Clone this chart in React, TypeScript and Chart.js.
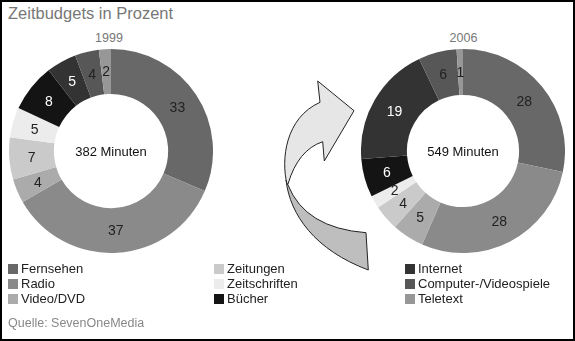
import React, { useEffect, useRef } from "react";
import { Chart, registerables } from "chart.js";

Chart.register(...registerables);

const categories = [
  "Fernsehen",
  "Radio",
  "Video/DVD",
  "Zeitungen",
  "Zeitschriften",
  "Bücher",
  "Internet",
  "Computer-/Videospiele",
  "Teletext",
];
const values1999 = [33, 37, 4, 7, 5, 8, 5, 4, 2];
const values2006 = [28, 28, 5, 4, 2, 6, 19, 6, 1];
const years = ["1999", "2006"];
const totals = ["382 Minuten", "549 Minuten"];
const colors = [
  "#686868",
  "#8a8a8a",
  "#ababab",
  "#cacaca",
  "#ececec",
  "#141414",
  "#333333",
  "#575757",
  "#979797",
];
const labelColors = ["#222", "#222", "#222", "#222", "#222", "#fff", "#fff", "#222", "#222"];
const legendColumns = [
  [0, 1, 2],
  [3, 4, 5],
  [6, 7, 8],
];

const FONT = "'Liberation Sans', Arial, Helvetica, sans-serif";

const segLabels = {
  id: "segLabels",
  afterDatasetsDraw(chart: any, _args: any, opts: any) {
    const ctx = chart.ctx;
    const meta = chart.getDatasetMeta(0);
    const data = chart.data.datasets[0].data;
    ctx.save();
    ctx.textAlign = "center";
    ctx.textBaseline = "middle";
    ctx.font = `14px ${FONT}`;
    meta.data.forEach((arc: any, i: number) => {
      const p = arc.tooltipPosition(false);
      ctx.fillStyle = labelColors[i];
      ctx.fillText(String(data[i]), p.x, p.y + 1);
    });
    const a = meta.data[0];
    if (a && opts && opts.center) {
      ctx.fillStyle = "#111";
      ctx.font = `13px ${FONT}`;
      ctx.fillText(opts.center, a.x, a.y + 1);
    }
    ctx.restore();
  },
};

function Donut(props: { values: number[]; center: string; left: number; top: number; cutout: string }) {
  const ref = useRef<HTMLCanvasElement>(null);
  useEffect(() => {
    const chart = new Chart(ref.current as HTMLCanvasElement, {
      type: "doughnut",
      data: {
        labels: categories,
        datasets: [{ data: props.values, backgroundColor: colors, borderWidth: 0 }],
      },
      options: {
        responsive: false,
        animation: false,
        devicePixelRatio: 1,
        cutout: props.cutout,
        layout: { padding: 0 },
        events: [],
        plugins: {
          legend: { display: false },
          tooltip: { enabled: false },
          segLabels: { center: props.center },
        } as any,
      },
      plugins: [segLabels],
    });
    return () => chart.destroy();
  }, []);
  return (
    <canvas
      ref={ref}
      width={204}
      height={204}
      style={{ position: "absolute", left: props.left, top: props.top, width: 204, height: 204 }}
    />
  );
}

const abs = (o: any): React.CSSProperties => ({ position: "absolute", whiteSpace: "nowrap", ...o });

export default function App() {
  const colX = [8, 214, 405];
  const rowY = [269, 284, 299];
  return (
    <div
      style={{
        position: "absolute",
        left: 0,
        top: 0,
        width: 575,
        height: 341,
        boxSizing: "border-box",
        border: "2px solid #000",
        background: "#fff",
        fontFamily: FONT,
        overflow: "hidden",
      }}
    >
      <div style={abs({ left: 6, top: 1, fontSize: 16.5, lineHeight: "20px", color: "#777" })}>
        Zeitbudgets in Prozent
      </div>
      <div style={abs({ left: 77, top: 28, width: 60, textAlign: "center", fontSize: 12.5, lineHeight: "16px", color: "#777" })}>
        {years[0]}
      </div>
      <div style={abs({ left: 431.5, top: 28, width: 60, textAlign: "center", fontSize: 12.5, lineHeight: "16px", color: "#777" })}>
        {years[1]}
      </div>
      <Donut values={values1999} center={totals[0]} left={7} top={47} cutout="56%" />
      <Donut values={values2006} center={totals[1]} left={358.5} top={47} cutout="55%" />
      <svg
        width={575}
        height={341}
        style={{ position: "absolute", left: -2, top: -2, pointerEvents: "none" }}
      >
        <path
          d="M 286 180 C 290 215 315 250 368.3 270 L 366 232.7 Q 305 228 288 185 Z"
          fill="#bebebe"
          stroke="#222"
          strokeWidth={1}
          strokeLinejoin="round"
        />
        <path
          d="M 320 102.3 L 317.7 81 L 354 110.7 L 324.3 161 L 322.7 141.7 Q 298 150 288 184 L 287 184 C 281 160 285 118 320 102.3 Z"
          fill="#e6e6e6"
          stroke="#222"
          strokeWidth={1}
          strokeLinejoin="round"
        />
      </svg>
      {legendColumns.map((col, ci) =>
        col.map((idx, ri) => (
          <React.Fragment key={`${ci}-${ri}`}>
            <div
              style={abs({
                left: colX[ci] - 2,
                top: rowY[ri] - 5 - 2,
                width: 10,
                height: 10,
                background: colors[idx],
              })}
            />
            <div
              style={abs({
                left: colX[ci] + 13 - 2,
                top: rowY[ri] - 8 - 2,
                fontSize: 13,
                lineHeight: "16px",
                color: "#222",
              })}
            >
              {categories[idx]}
            </div>
          </React.Fragment>
        ))
      )}
      <div style={abs({ left: 6, top: 313, fontSize: 12.5, lineHeight: "16px", color: "#888" })}>
        Quelle: SevenOneMedia
      </div>
    </div>
  );
}
